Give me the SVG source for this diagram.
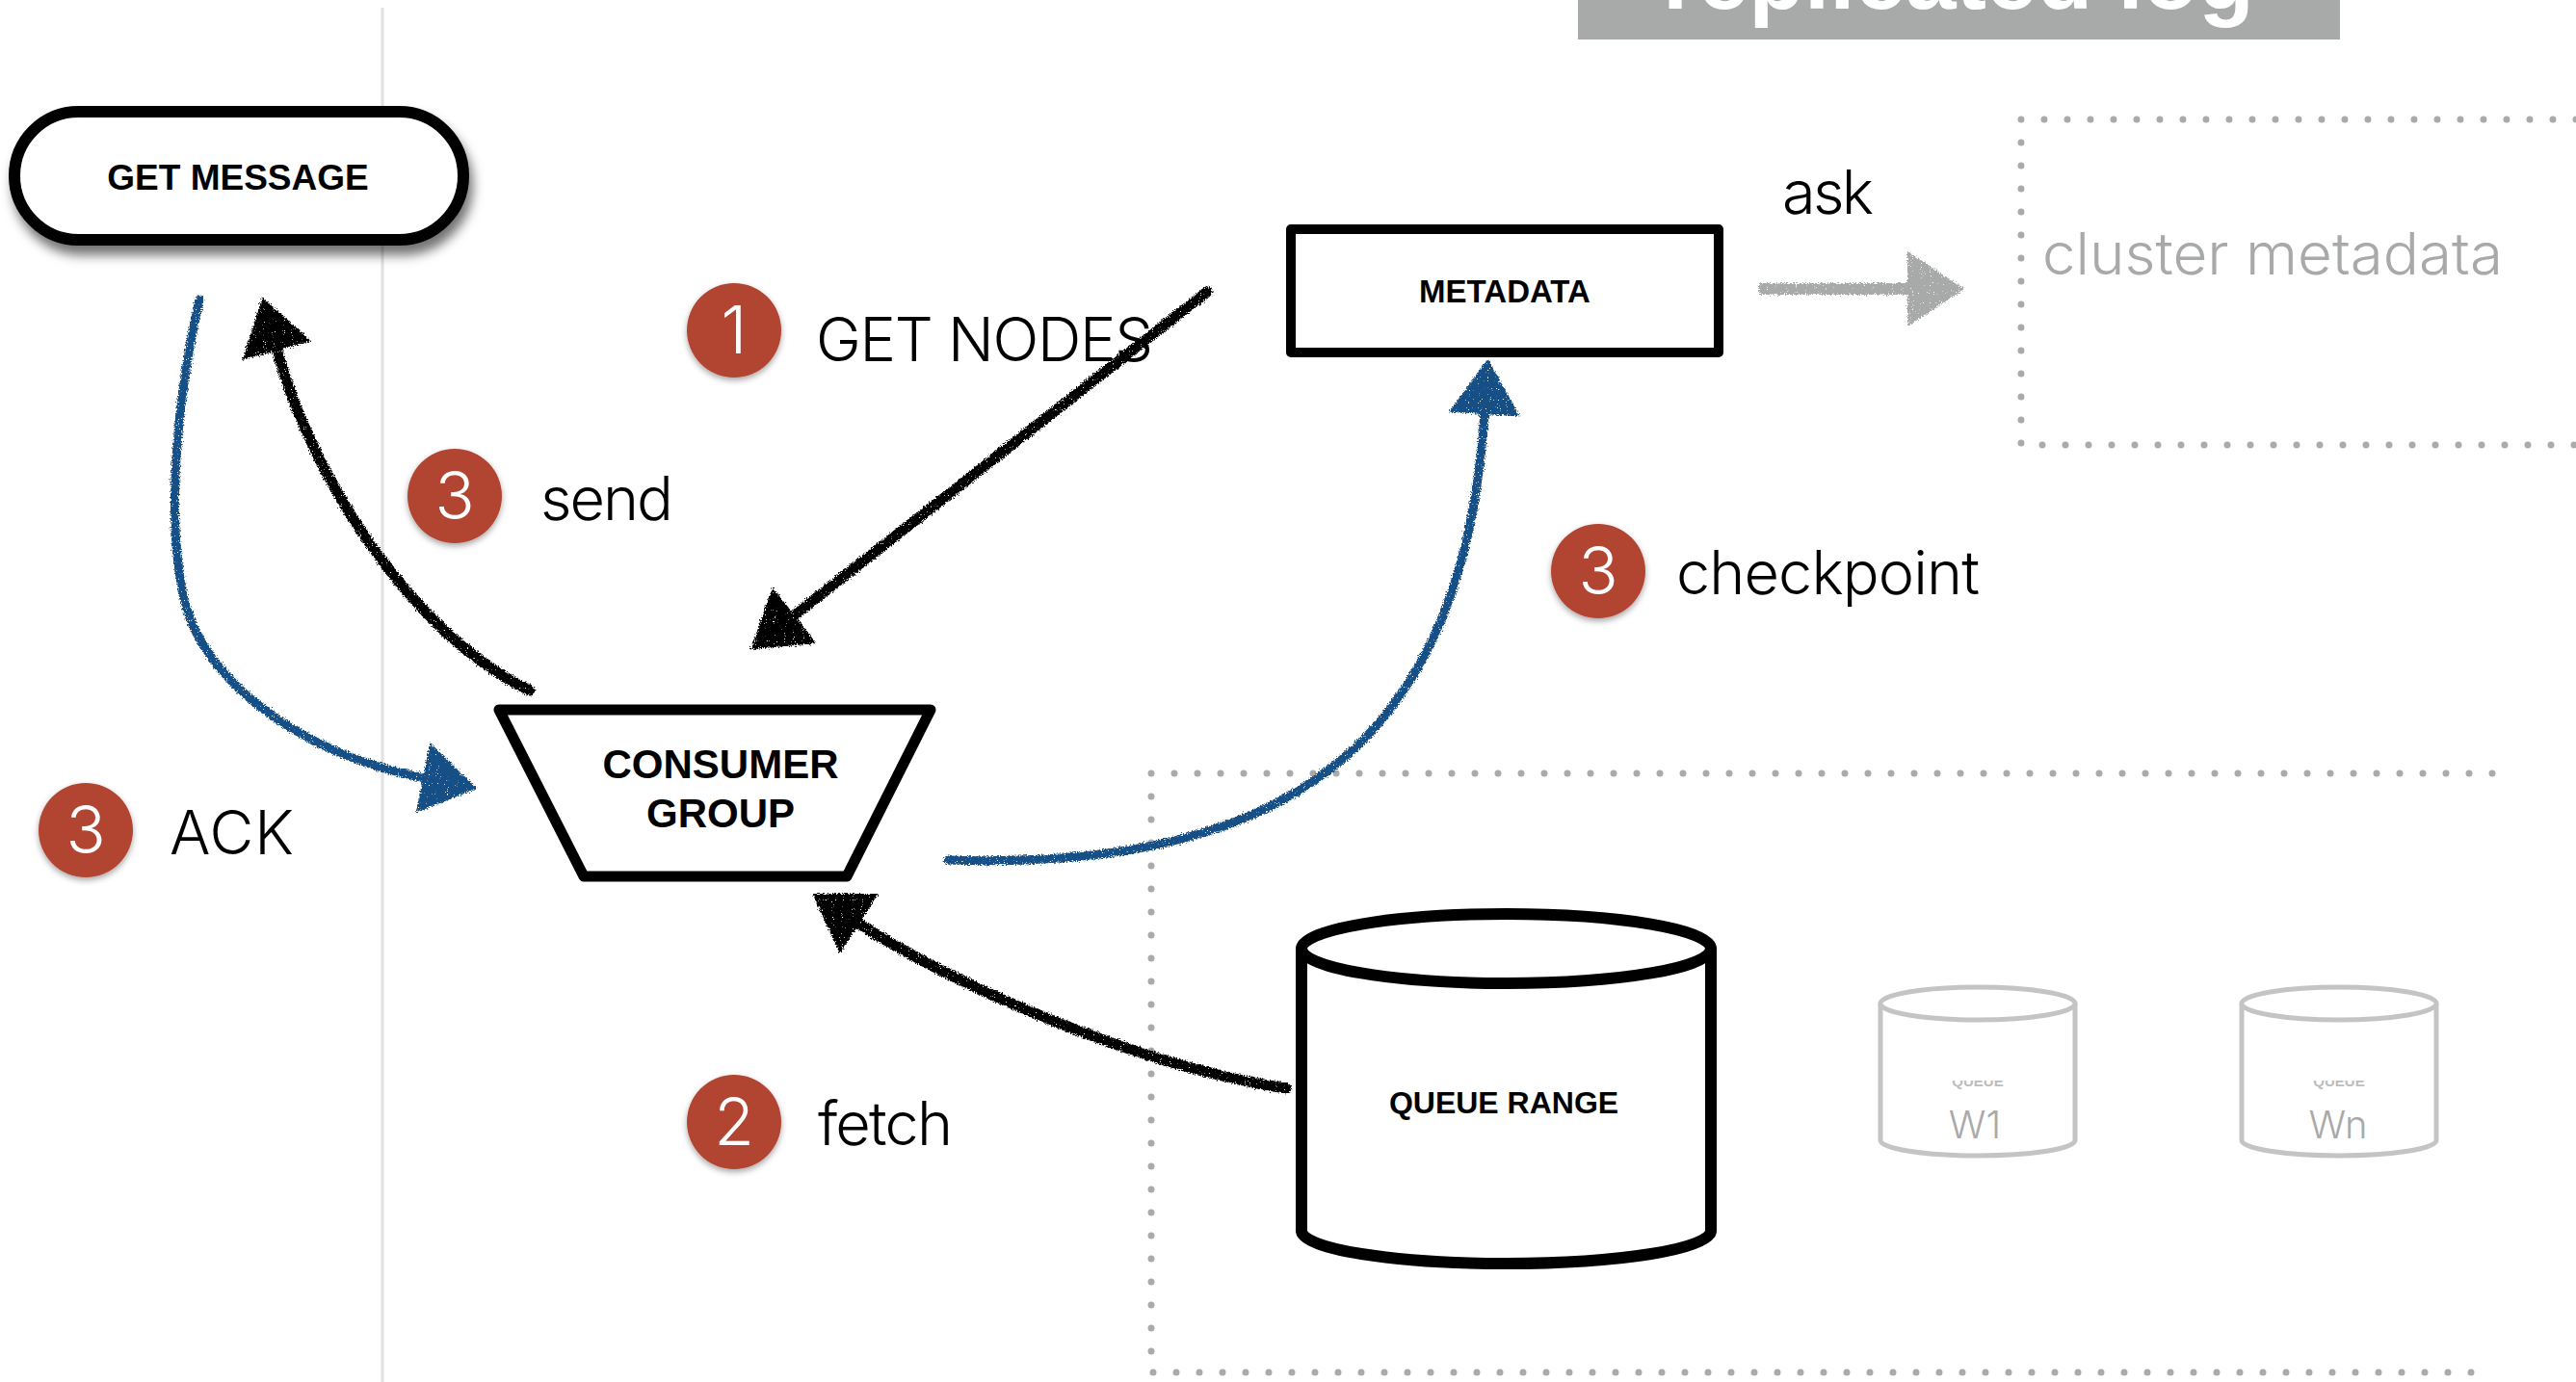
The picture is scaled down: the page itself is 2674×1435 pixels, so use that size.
<svg xmlns="http://www.w3.org/2000/svg" width="2674" height="1435" viewBox="0 0 2674 1435">
<defs>
<style>
.shape{fill:#fff;stroke:#000;stroke-linejoin:round}
.nlabel{font-family:"Liberation Sans",Arial,sans-serif;font-weight:bold;fill:#000;text-anchor:middle}
.label{font-family:Inter,"Liberation Sans",sans-serif;font-weight:300;fill:#000;font-size:63px}
.badge{fill:#b24531;filter:url(#badgeShadow)}
.badge-num{font-family:Inter,"Liberation Sans",sans-serif;font-weight:300;fill:#fff;font-size:68px;text-anchor:middle}
.dots{fill:none;stroke:#a9abaa;stroke-width:7;stroke-linecap:round;stroke-dasharray:0 24}
.ghost{fill:#fff;stroke:#c4c4c4;stroke-width:5}
.ghost-text{font-family:Inter,"Liberation Sans",sans-serif;font-weight:300;fill:#a9a9a9;text-anchor:middle}
.conn-black{fill:none;stroke:#000;stroke-width:11;stroke-linecap:round}
.conn-blue{fill:none;stroke:#174f86;stroke-width:9;stroke-linecap:round}
.conn-gray{fill:none;stroke:#a8aaa9;stroke-width:12}
</style>
<filter id="pillShadow" x="-10%" y="-20%" width="125%" height="150%">
<feDropShadow dx="4" dy="10" stdDeviation="6" flood-color="#000" flood-opacity="0.55"/>
</filter>
<filter id="badgeShadow" x="-30%" y="-30%" width="160%" height="160%">
<feDropShadow dx="0" dy="3" stdDeviation="3" flood-color="#000" flood-opacity="0.35"/>
</filter>
<filter id="rough" x="-5%" y="-5%" width="110%" height="110%">
<feTurbulence type="fractalNoise" baseFrequency="0.7" numOctaves="2" seed="3" result="n"/>
<feDisplacementMap in="SourceGraphic" in2="n" scale="6" xChannelSelector="R" yChannelSelector="G" result="d"/>
<feTurbulence type="fractalNoise" baseFrequency="0.9" numOctaves="1" seed="9" result="n2"/>
<feColorMatrix in="n2" type="matrix" values="0 0 0 0 0  0 0 0 0 0  0 0 0 0 0  0 0 0 -14 10.5" result="mask"/>
<feComposite in="d" in2="mask" operator="in"/>
</filter>
<marker id="headBlack" markerUnits="userSpaceOnUse" markerWidth="60" markerHeight="74" viewBox="0 0 58 72" refX="2" refY="36" orient="auto">
<path d="M0 0 L56 36 L0 72 Z" fill="#000"/>
</marker>
<marker id="headBlue" markerUnits="userSpaceOnUse" markerWidth="60" markerHeight="74" viewBox="0 0 58 72" refX="2" refY="36" orient="auto">
<path d="M0 0 L56 36 L0 72 Z" fill="#174f86"/>
</marker>
<marker id="headGray" markerUnits="userSpaceOnUse" markerWidth="62" markerHeight="78" viewBox="0 0 60 76" refX="2" refY="38" orient="auto">
<path d="M0 0 L58 38 L0 76 Z" fill="#a8aaa9"/>
</marker>
<clipPath id="queueClip1"><rect x="2000" y="1122" width="110" height="10"/></clipPath>
<clipPath id="queueClip2"><rect x="2375" y="1122" width="110" height="10"/></clipPath>
</defs>

<rect width="2674" height="1435" fill="#fff"/>

<!-- title (cut off at top edge as in the source) -->
<g id="title">
<rect x="1638" y="0" width="791" height="41" fill="#a8aaa9"/>
<text x="2033" y="9" font-family="'Liberation Sans',Arial,sans-serif" font-weight="bold" font-size="94" fill="#fff" text-anchor="middle" textLength="614" lengthAdjust="spacingAndGlyphs">replicated log</text>
</g>

<!-- separator line -->
<line x1="397" y1="8" x2="397" y2="1435" stroke="#e1e1e1" stroke-width="3"/>

<!-- dotted groups -->
<g id="cluster-metadata">
<path class="dots" d="M2674 124 H2098 V462 H2674"/>
<text x="2120" y="285" font-family="Inter,'Liberation Sans',sans-serif" font-weight="300" font-size="60" fill="#a8aaa9" textLength="478" lengthAdjust="spacingAndGlyphs">cluster metadata</text>
</g>
<g id="replica-group">
<path class="dots" d="M2587 803 H1195 V1425 H2567"/>
</g>

<!-- connectors -->
<g id="connectors" filter="url(#rough)">
<path id="edge-get-nodes" class="conn-black" d="M1253 303 L823 640" marker-end="url(#headBlack)"/>
<path id="edge-send" class="conn-black" d="M550 717 C430 660 325 500 287 362" marker-end="url(#headBlack)"/>
<path id="edge-ack" class="conn-blue" d="M207 311 C185 410 170 540 193 629 C212 700 300 780 441 808" marker-end="url(#headBlue)"/>
<path id="edge-checkpoint" class="conn-blue" d="M984 893 C1350 905 1520 760 1541 428" marker-end="url(#headBlue)"/>
<path id="edge-fetch" class="conn-black" d="M1335 1130 C1200 1110 1010 1035 890 958" marker-end="url(#headBlack)"/>
<path id="edge-ask" class="conn-gray" d="M1826 300 L1982 300" marker-end="url(#headGray)"/>
</g>

<!-- nodes -->
<g id="node-get-message">
<rect class="shape" x="15" y="116" width="466" height="133" rx="66.5" stroke-width="12" filter="url(#pillShadow)"/>
<text class="nlabel" x="247" y="197" font-size="37">GET MESSAGE</text>
</g>

<g id="node-consumer-group">
<polygon class="shape" points="518,737 966,737 879,910 606,910" stroke-width="11"/>
<text class="nlabel" x="748" y="808" font-size="42">CONSUMER</text>
<text class="nlabel" x="748" y="859" font-size="42">GROUP</text>
</g>

<g id="node-metadata">
<rect class="shape" x="1340" y="238" width="444" height="128" stroke-width="10"/>
<text class="nlabel" x="1562" y="314" font-size="33">METADATA</text>
</g>

<g id="node-queue-range">
<path class="shape" stroke-width="12" d="M1351 985 V1278 A212.5 34 0 0 0 1776 1278 V985"/>
<ellipse class="shape" stroke-width="12" cx="1563.5" cy="985" rx="212.5" ry="36"/>
<text class="nlabel" x="1561" y="1156" font-size="32">QUEUE RANGE</text>
</g>

<g id="node-w1">
<path class="ghost" d="M1952 1042 V1184 A101 16 0 0 0 2154 1184 V1042"/>
<ellipse class="ghost" cx="2053" cy="1042" rx="101" ry="17"/>
<text x="2053" y="1128" clip-path="url(#queueClip1)" font-family="'Liberation Sans',Arial,sans-serif" font-weight="bold" font-size="15" fill="#bdbdbd" text-anchor="middle">QUEUE</text>
<text class="ghost-text" x="2050" y="1182" font-size="40">W1</text>
</g>

<g id="node-wn">
<path class="ghost" d="M2327 1042 V1184 A101 16 0 0 0 2529 1184 V1042"/>
<ellipse class="ghost" cx="2428" cy="1042" rx="101" ry="17"/>
<text x="2428" y="1128" clip-path="url(#queueClip2)" font-family="'Liberation Sans',Arial,sans-serif" font-weight="bold" font-size="15" fill="#bdbdbd" text-anchor="middle">QUEUE</text>
<text class="ghost-text" x="2427" y="1182" font-size="40">Wn</text>
</g>

<!-- step labels -->
<g id="step-get-nodes">
<circle class="badge" cx="762" cy="343" r="49"/>
<text class="badge-num" x="762" y="367">1</text>
<text class="label" x="847" y="375" textLength="350" lengthAdjust="spacing">GET NODES</text>
</g>
<g id="step-send">
<circle class="badge" cx="472" cy="515" r="49"/>
<text class="badge-num" x="472" y="539">3</text>
<text class="label" x="561" y="540" textLength="138" lengthAdjust="spacing">send</text>
</g>
<g id="step-ack">
<circle class="badge" cx="89" cy="862" r="49"/>
<text class="badge-num" x="89" y="886">3</text>
<text class="label" x="176" y="887" textLength="129" lengthAdjust="spacing">ACK</text>
</g>
<g id="step-checkpoint">
<circle class="badge" cx="1659" cy="593" r="49"/>
<text class="badge-num" x="1659" y="617">3</text>
<text class="label" x="1740" y="617" textLength="315" lengthAdjust="spacing">checkpoint</text>
</g>
<g id="step-fetch">
<circle class="badge" cx="762" cy="1165" r="49"/>
<text class="badge-num" x="762" y="1189">2</text>
<text class="label" x="849" y="1189" textLength="140" lengthAdjust="spacing">fetch</text>
</g>
<g id="label-ask">
<text class="label" x="1850" y="222" textLength="95" lengthAdjust="spacing">ask</text>
</g>
</svg>
